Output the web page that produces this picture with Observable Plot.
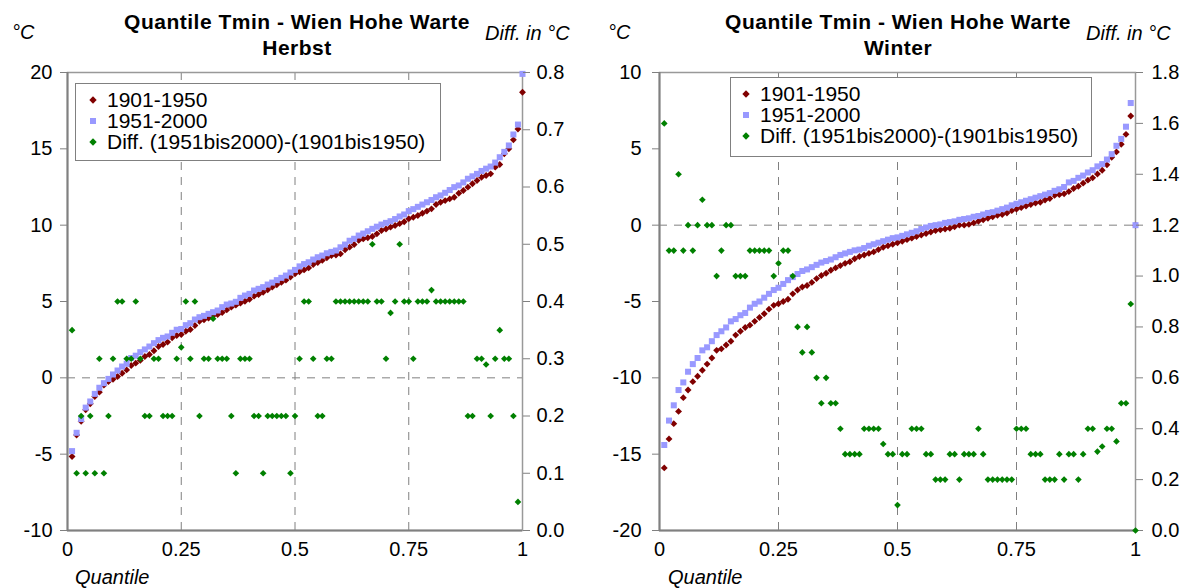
<!DOCTYPE html>
<html><head><meta charset="utf-8">
<script src="https://cdn.jsdelivr.net/npm/d3@7"></script>
<script src="https://cdn.jsdelivr.net/npm/@observablehq/plot@0.6"></script>
<style>
body{margin:0;background:#fff;font-family:"Liberation Sans",Arial,sans-serif;color:#000;}
#root{position:relative;width:1195px;height:588px;overflow:hidden;background:#fff;}
.title{position:absolute;font-weight:bold;font-size:21px;letter-spacing:0.5px;line-height:24px;white-space:nowrap;transform:translateX(-50%);}
.ital{position:absolute;font-style:italic;font-size:20px;line-height:22px;white-space:nowrap;}
.legend{position:absolute;background:#fff;border:1px solid #808080;box-sizing:border-box;}
.row{position:absolute;font-size:21px;line-height:22px;white-space:nowrap;}
.mk{position:absolute;}
svg.pl{position:absolute;}
</style></head><body><div id="root"></div>
<script>
// quantile levels 0.01 .. 1.00
const quantiles = d3.range(1, 101).map(i => i / 100);

// Herbst (autumn)
const herbst1901 = [-5.15,-3.75,-2.84,-2.09,-1.7,-1.22,-0.94,-0.48,-0.24,-0.09,
 0.09,0.3,0.52,0.81,0.96,1.14,1.4,1.53,1.77,2.05,
 2.18,2.34,2.62,2.77,2.84,3.05,3.17,3.43,3.71,3.8,
 3.91,4.06,4.15,4.28,4.45,4.63,4.76,4.89,5.02,5.15,
 5.35,5.46,5.61,5.77,5.94,6.1,6.25,6.4,6.6,6.81,
 6.95,7.07,7.2,7.42,7.55,7.69,7.86,8.01,8.05,8.12,
 8.39,8.56,8.73,9.0,9.1,9.18,9.26,9.43,9.65,9.75,
 9.87,9.98,10.1,10.22,10.42,10.52,10.63,10.78,10.92,11.07,
 11.35,11.5,11.61,11.72,11.83,12.09,12.27,12.49,12.71,12.93,
 13.14,13.25,13.36,13.8,13.97,14.67,15.0,15.59,16.3,18.71];
const herbst1951 = [-4.8,-3.6,-2.7,-1.95,-1.55,-1.05,-0.65,-0.35,-0.07,0.22,
 0.48,0.74,0.92,1.3,1.45,1.68,1.86,2.05,2.27,2.47,
 2.62,2.71,2.95,3.15,3.2,3.45,3.58,3.82,3.97,4.06,
 4.19,4.3,4.41,4.63,4.8,4.87,4.98,5.24,5.39,5.5,
 5.72,5.83,5.94,6.11,6.24,6.4,6.55,6.7,6.9,7.07,
 7.3,7.45,7.57,7.75,7.9,8.01,8.16,8.25,8.34,8.55,
 8.73,8.98,9.11,9.32,9.45,9.6,9.76,9.9,10.04,10.15,
 10.26,10.4,10.57,10.7,10.92,11.05,11.2,11.35,11.5,11.65,
 11.83,11.95,12.12,12.3,12.49,12.6,12.8,13.04,13.2,13.36,
 13.55,13.7,13.84,14.1,14.45,14.8,15.22,15.94,16.59,19.91];
const herbstDiff = [0.35,0.1,0.2,0.1,0.2,0.1,0.3,0.1,0.2,0.3,
 0.4,0.4,0.3,0.3,0.4,0.3,0.2,0.2,0.3,0.3,
 0.2,0.2,0.2,0.3,0.32,0.4,0.3,0.4,0.2,0.3,
 0.3,0.37,0.3,0.3,0.3,0.2,0.1,0.3,0.3,0.3,
 0.2,0.2,0.1,0.2,0.2,0.2,0.2,0.2,0.1,0.2,
 0.3,0.4,0.4,0.3,0.2,0.2,0.3,0.3,0.4,0.4,
 0.4,0.4,0.4,0.4,0.4,0.4,0.5,0.4,0.4,0.3,
 0.38,0.4,0.5,0.4,0.4,0.3,0.4,0.4,0.4,0.42,
 0.4,0.4,0.4,0.4,0.4,0.4,0.4,0.2,0.2,0.3,
 0.3,0.29,0.2,0.3,0.35,0.3,0.3,0.2,0.05,null];

// Winter
const winter1901 = [-15.9,-14.0,-13.0,-12.2,-11.3,-10.8,-10.25,-9.9,-9.5,-9.1,
 -8.7,-8.2,-8.1,-7.85,-7.6,-7.2,-6.95,-6.7,-6.55,-6.3,
 -6.05,-5.8,-5.5,-5.25,-5.15,-5.0,-4.85,-4.5,-4.25,-4.05,
 -3.95,-3.75,-3.5,-3.3,-3.15,-2.95,-2.8,-2.65,-2.5,-2.4,
 -2.2,-2.05,-1.95,-1.85,-1.75,-1.6,-1.45,-1.35,-1.25,-1.15,
 -1.05,-0.95,-0.85,-0.75,-0.65,-0.55,-0.45,-0.35,-0.3,-0.25,
 -0.2,-0.1,0.0,0.0,0.05,0.15,0.25,0.35,0.45,0.55,
 0.65,0.7,0.8,0.95,1.05,1.15,1.25,1.35,1.45,1.5,
 1.65,1.75,1.95,2.0,2.05,2.2,2.4,2.55,2.75,2.95,
 3.1,3.35,3.6,3.95,4.45,4.8,5.3,5.95,7.15,0.0];
const winter1951 = [-14.4,-12.8,-11.8,-10.8,-10.3,-9.6,-9.1,-8.7,-8.2,-8.0,
 -7.6,-7.2,-6.95,-6.7,-6.3,-6.15,-5.9,-5.75,-5.4,-5.15,
 -5.0,-4.75,-4.5,-4.25,-4.1,-3.85,-3.6,-3.4,-3.2,-3.0,
 -2.9,-2.75,-2.6,-2.45,-2.35,-2.25,-2.1,-1.95,-1.85,-1.75,
 -1.65,-1.6,-1.5,-1.35,-1.25,-1.15,-1.05,-0.95,-0.85,-0.8,
 -0.7,-0.6,-0.5,-0.4,-0.25,-0.15,-0.05,0.0,0.05,0.15,
 0.2,0.25,0.35,0.4,0.45,0.55,0.6,0.7,0.8,0.85,
 0.95,1.05,1.15,1.3,1.4,1.5,1.6,1.7,1.8,1.9,
 2.0,2.1,2.25,2.35,2.5,2.8,2.9,3.1,3.25,3.45,
 3.6,3.85,4.0,4.3,4.65,5.2,5.65,6.45,8.0,0.0];
const winterDiff = [1.6,1.1,1.1,1.4,1.1,1.2,1.1,1.2,1.3,1.2,
 1.2,1.0,1.1,1.2,1.2,1.0,1.0,1.0,1.1,1.1,
 1.1,1.1,1.1,1.0,1.05,1.1,1.1,1.0,0.8,0.7,
 0.8,0.7,0.6,0.5,0.6,0.5,0.5,0.4,0.3,0.3,
 0.3,0.3,0.4,0.4,0.4,0.4,0.34,0.3,0.3,0.1,
 0.3,0.3,0.4,0.4,0.4,0.3,0.3,0.2,0.2,0.2,
 0.3,0.3,0.2,0.3,0.3,0.3,0.4,0.3,0.2,0.2,
 0.2,0.2,0.2,0.2,0.4,0.4,0.4,0.3,0.3,0.3,
 0.2,0.2,0.2,0.3,0.2,0.3,0.3,0.2,0.3,0.4,
 0.4,0.31,0.33,0.4,0.4,0.35,0.5,0.5,0.89,0.0];

// axis ticks
const xTicks = [0, 0.25, 0.5, 0.75, 1];
const herbstTempTicks = [-10, -5, 0, 5, 10, 15, 20];
const herbstDiffTicks = [0, 0.1, 0.2, 0.3, 0.4, 0.5, 0.6, 0.7, 0.8];
const winterTempTicks = [-20, -15, -10, -5, 0, 5, 10];
const winterDiffTicks = [0, 0.2, 0.4, 0.6, 0.8, 1.0, 1.2, 1.4, 1.6, 1.8];

const seriesNames = ["1901-1950", "1951-2000", "Diff. (1951bis2000)-(1901bis1950)"];
const colors = {red: "#800000", blue: "#9999ff", green: "#008000"};

const table = arr => quantiles.map((q, i) => ({q, v: arr[i]})).filter(d => d.v != null);

const root = document.getElementById("root");
const FONT = '"Liberation Sans", Arial, sans-serif';

function addDiv(cls, text, css) {
  const d = document.createElement("div");
  d.className = cls;
  d.textContent = text;
  Object.assign(d.style, css);
  root.appendChild(d);
  return d;
}

function panel(cfg) {
  const common = {
    width: cfg.width, height: 520,
    marginLeft: cfg.mL, marginRight: cfg.mR, marginTop: 22, marginBottom: 40,
    style: {fontFamily: FONT, fontSize: "20px", background: "transparent", color: "#000", overflow: "visible"}
  };
  const tmin = cfg.tempDomain[0];
  const p1 = Plot.plot({
    ...common,
    x: {domain: [0, 1]},
    y: {domain: cfg.tempDomain},
    marks: [
      Plot.ruleX([0.25, 0.5, 0.75], {stroke: "#808080", strokeWidth: 1, strokeDasharray: "8,7"}),
      Plot.ruleY([0], {stroke: "#808080", strokeWidth: 1, strokeDasharray: "8,7"}),
      Plot.frame({stroke: "#999999", strokeWidth: 1.5}),
      Plot.ruleX([0], {stroke: "#808080", strokeWidth: 2}),
      Plot.ruleY([tmin], {stroke: "#808080", strokeWidth: 2}),
      Plot.axisY({anchor: "left", ticks: cfg.tempTicks, tickSize: 7, tickPadding: cfg.leftPad, tickFormat: d => String(d), label: null, stroke: "#808080", fill: "#000"}),
      Plot.axisX({anchor: "bottom", ticks: xTicks, tickSize: 0, tickPadding: 11, tickFormat: d => String(d), label: null, fill: "#000"}),
      Plot.dot(table(cfg.red), {x: "q", y: "v", symbol: "diamond2", r: 3.1, fill: colors.red, stroke: "none"}),
      Plot.dot(table(cfg.blue), {x: "q", y: "v", symbol: "square", r: 3.4, fill: colors.blue, stroke: "none"})
    ]
  });
  const p2 = Plot.plot({
    ...common,
    x: {domain: [0, 1], axis: null},
    y: {domain: cfg.diffDomain},
    marks: [
      Plot.axisY({anchor: "right", ticks: cfg.diffTicks, tickSize: 7, tickPadding: cfg.rightPad, tickFormat: d3.format(".1f"), label: null, stroke: "#808080", fill: "#000"}),
      Plot.dot(table(cfg.diff), {x: "q", y: "v", symbol: "diamond2", r: 3.0, fill: colors.green, stroke: "none"})
    ]
  });
  for (const p of [p1, p2]) {
    p.classList.add("pl");
    p.style.left = cfg.left + "px";
    p.style.top = "50px";
    root.appendChild(p);
  }
  // titles and axis captions
  addDiv("title", "Quantile Tmin - Wien Hohe Warte", {left: cfg.titleX + "px", top: "10px"});
  addDiv("title", cfg.season, {left: cfg.titleX + "px", top: "36px"});
  addDiv("ital", "°C", {left: cfg.degX + "px", top: "21px"});
  addDiv("ital", "Diff. in °C", {left: cfg.diffX + "px", top: "22px"});
  addDiv("ital", "Quantile", {left: cfg.quantX + "px", top: "566px"});
  // legend
  const lg = cfg.legend;
  const box = document.createElement("div");
  box.className = "legend";
  Object.assign(box.style, {left: lg.x + "px", top: lg.y + "px", width: lg.w + "px", height: lg.h + "px"});
  const marks = [
    `<svg width="10" height="10"><path d="M5,1.3L8.7,5L5,8.7L1.3,5Z" fill="${colors.red}"/></svg>`,
    `<svg width="10" height="10"><rect x="2" y="2" width="6" height="6" fill="${colors.blue}"/></svg>`,
    `<svg width="10" height="10"><path d="M5,1.3L8.7,5L5,8.7L1.3,5Z" fill="${colors.green}"/></svg>`
  ];
  seriesNames.forEach((name, i) => {
    const cy = lg.rows[i];
    const m = document.createElement("div");
    m.className = "mk";
    m.innerHTML = marks[i];
    Object.assign(m.style, {left: (lg.mx - 5) + "px", top: (cy - 5) + "px", width: "10px", height: "10px", lineHeight: "0"});
    box.appendChild(m);
    const t = document.createElement("div");
    t.className = "row";
    t.textContent = name;
    Object.assign(t.style, {left: lg.tx + "px", top: (cy - 11) + "px"});
    box.appendChild(t);
  });
  root.appendChild(box);
}

panel({
  left: 0, width: 597, mL: 67, mR: 75, leftPad: 8, rightPad: 7,
  tempDomain: [-10, 20], tempTicks: herbstTempTicks,
  diffDomain: [0, 0.8], diffTicks: herbstDiffTicks,
  red: herbst1901, blue: herbst1951, diff: herbstDiff,
  season: "Herbst", titleX: 297, degX: 12, diffX: 485, quantX: 75,
  legend: {x: 75, y: 83, w: 366, h: 78, mx: 17, tx: 31, rows: [16, 37, 58]}
});
panel({
  left: 597, width: 598, mL: 62, mR: 60, leftPad: 11, rightPad: 9,
  tempDomain: [-20, 10], tempTicks: winterTempTicks,
  diffDomain: [0, 1.8], diffTicks: winterDiffTicks,
  red: winter1901, blue: winter1951, diff: winterDiff,
  season: "Winter", titleX: 898, degX: 608, diffX: 1086, quantX: 668,
  legend: {x: 730, y: 77, w: 362, h: 80, mx: 15, tx: 29, rows: [16, 37, 58]}
});
</script></body></html>
